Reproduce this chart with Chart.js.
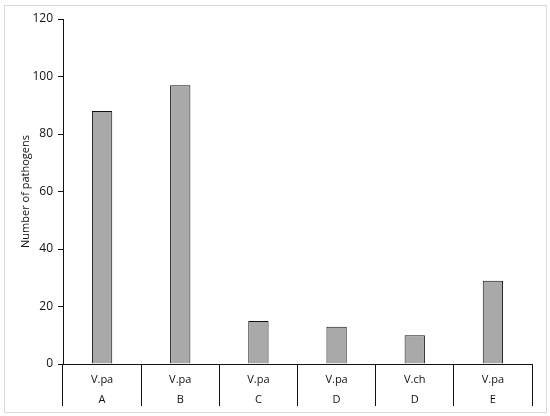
<!DOCTYPE html>
<html>
<head>
<meta charset="utf-8">
<script src="https://cdn.jsdelivr.net/npm/chart.js@4/dist/chart.umd.min.js"></script>
<style>
  html, body { margin: 0; padding: 0; background: #fff; }
  #wrap { position: relative; width: 550px; height: 416px; }
  #frame {
    position: absolute; left: 4px; top: 5px; width: 541px; height: 406px;
    border: 1px solid #d9d9d9; pointer-events: none;
  }
</style>
</head>
<body>
<div id="wrap"><canvas id="chart"></canvas><div id="frame"></div></div>
<script>
// pathogen counts per group (two-level category axis)
const species = ["V.pa", "V.pa", "V.pa", "V.pa", "V.ch", "V.pa"];
const groups = ["A", "B", "C", "D", "D", "E"];
const counts = [88, 97, 15, 13, 10, 29];
const yTicks = [0, 20, 40, 60, 80, 100, 120];

const labels = species.map((s, i) => [s, groups[i]]);

Chart.defaults.font.family = '"Open Sans", "Liberation Sans", sans-serif';
Chart.defaults.color = "#111";

new Chart(document.getElementById("chart"), {
  type: "bar",
  data: {
    labels: labels,
    datasets: [
      {
        data: counts,
        backgroundColor: "#a9a9a9",
        borderColor: "#111",
        borderWidth: 1,
        categoryPercentage: 1,
        barPercentage: 0.26,
      },
    ],
  },
  options: {
    responsive: true,
    maintainAspectRatio: false,
    animation: false,
    layout: { padding: { top: 19, right: 18, bottom: 0, left: 0 } },
    plugins: {
      legend: { display: false },
      tooltip: { enabled: false },
    },
    scales: {
      x: {
        grid: {
          offset: true,
          drawOnChartArea: false,
          drawTicks: true,
          tickLength: 42,
          color: "#111",
        },
        border: { color: "#111", width: 1 },
        ticks: {
          padding: -36,
          maxRotation: 0,
          font: { size: 11, lineHeight: 1.8 },
          color: "#111",
        },
        afterFit(scale) {
          scale.height = 52;
        },
      },
      y: {
        min: 0,
        max: 120,
        afterBuildTicks(scale) {
          scale.ticks = yTicks.map((v) => ({ value: v }));
        },
        grid: {
          drawOnChartArea: false,
          drawTicks: true,
          tickLength: 5,
          color: "#111",
        },
        border: { color: "#111", width: 1 },
        ticks: {
          padding: 5,
          font: { size: 12 },
          color: "#111",
        },
        title: {
          display: true,
          text: "Number of pathogens",
          font: { size: 11 },
          color: "#111",
          padding: { top: 19, bottom: 6 },
        },
        afterFit(scale) {
          scale.width = 63;
        },
      },
    },
  },
});
</script>
</body>
</html>
